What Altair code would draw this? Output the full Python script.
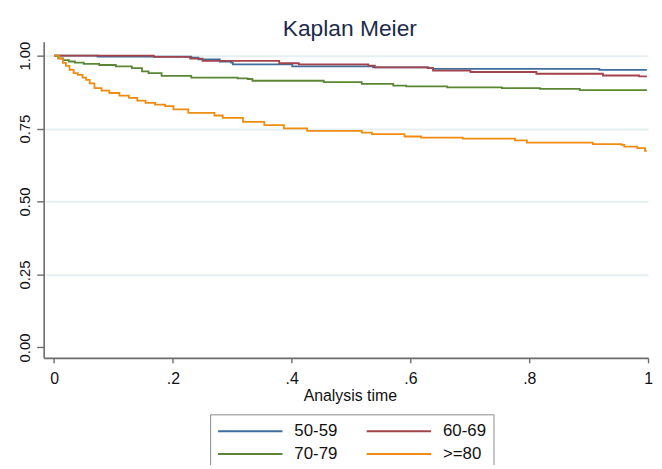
import altair as alt
import pandas as pd

groups = ["50-59", "60-69", "70-79", ">=80"]
colors = ["#3f6d9c", "#a3434c", "#5b8636", "#f08c12"]

t_50 = [0, 0.073, 0.231, 0.243, 0.279, 0.298, 0.301, 0.401, 0.537, 0.629, 0.638, 0.918, 0.998]
s_50 = [1.0, 0.997, 0.993, 0.987, 0.980, 0.976, 0.970, 0.963, 0.960, 0.957, 0.955, 0.951, 0.951]

t_60 = [0, 0.168, 0.229, 0.250, 0.379, 0.412, 0.529, 0.540, 0.630, 0.638, 0.701, 0.812, 0.924, 0.985, 0.998]
s_60 = [1.0, 0.9955, 0.990, 0.982, 0.974, 0.970, 0.966, 0.960, 0.957, 0.949, 0.944, 0.938, 0.932, 0.929, 0.929]

t_70 = [0, 0.007, 0.015, 0.025, 0.035, 0.050, 0.076, 0.104, 0.131, 0.148, 0.159, 0.181,
        0.231, 0.309, 0.326, 0.334, 0.454, 0.518, 0.571, 0.593, 0.662, 0.754, 0.818, 0.885, 0.998]
s_70 = [1.0, 0.991, 0.985, 0.980, 0.976, 0.972, 0.968, 0.963, 0.957, 0.946, 0.940, 0.931,
        0.925, 0.922, 0.920, 0.914, 0.909, 0.903, 0.897, 0.895, 0.891, 0.889, 0.886, 0.882, 0.882]

t_80 = [0, 0.008, 0.015, 0.020, 0.026, 0.033, 0.040, 0.048, 0.054, 0.060, 0.068, 0.080, 0.093,
        0.110, 0.126, 0.140, 0.154, 0.170, 0.187, 0.201, 0.226, 0.270, 0.284, 0.318, 0.354,
        0.387, 0.426, 0.518, 0.535, 0.590, 0.618, 0.688, 0.776, 0.796, 0.907, 0.955, 0.960,
        0.982, 0.995, 0.998]
s_80 = [1.0, 0.990, 0.975, 0.965, 0.951, 0.940, 0.934, 0.925, 0.917, 0.905, 0.889, 0.880, 0.872,
        0.863, 0.855, 0.846, 0.838, 0.832, 0.827, 0.816, 0.804, 0.795, 0.787, 0.773, 0.762,
        0.751, 0.742, 0.736, 0.731, 0.723, 0.719, 0.716, 0.710, 0.702, 0.697, 0.694, 0.688,
        0.683, 0.674, 0.674]

x_ticks = [0, 0.2, 0.4, 0.6, 0.8, 1.0]
y_ticks = [0, 0.25, 0.5, 0.75, 1.0]

series = [(groups[0], t_50, s_50), (groups[1], t_60, s_60),
          (groups[2], t_70, s_70), (groups[3], t_80, s_80)]
rows = []
for g, ts, ss in series:
    for t, s in zip(ts, ss):
        rows.append({"group": g, "t": t, "s": s})
df = pd.DataFrame(rows)

FONT = "Liberation Sans"

chart = alt.Chart(df).mark_line(
    interpolate="step-after", strokeWidth=1.8, clip=True
).encode(
    x=alt.X(
        "t:Q",
        scale=alt.Scale(domain=[-0.0175, 1.0], nice=False, zero=False),
        axis=alt.Axis(
            values=x_ticks,
            labelExpr="datum.value == 0 ? '0' : datum.value == 1 ? '1' : replace(format(datum.value, '.1f'), '0.', '.')",
            title="Analysis time",
            grid=False,
            tickSize=5,
            labelPadding=8,
            labelFontSize=16,
            labelFont=FONT,
            labelColor="#111111",
            titleFont=FONT,
            titleFontSize=16,
            titleFontWeight="normal",
            titleColor="#111111",
            titleX=309,
            titleY=43,
            titleAlign="center",
            titleBaseline="alphabetic",
            domainColor="#6b6b6b",
            domainWidth=1.6,
            tickColor="#6b6b6b",
            tickWidth=1.4,
            labelFlush=False,
        ),
    ),
    y=alt.Y(
        "s:Q",
        scale=alt.Scale(domain=[-0.0357, 1.0475], nice=False, zero=False),
        axis=alt.Axis(
            values=y_ticks,
            format=".2f",
            title=None,
            tickSize=7,
            labelAngle=-90,
            labelAlign="center",
            labelBaseline="alphabetic",
            labelPadding=7,
            labelFontSize=15,
            labelFont=FONT,
            labelColor="#111111",
            grid=True,
            gridColor="#e6eff1",
            gridWidth=2,
            gridOpacity=alt.condition("datum.value == 0", alt.value(0), alt.value(1)),
            domainColor="#6b6b6b",
            domainWidth=1.6,
            tickColor="#6b6b6b",
            tickWidth=1.4,
            labelFlush=False,
        ),
    ),
    color=alt.Color(
        "group:N",
        scale=alt.Scale(domain=groups, range=colors),
        legend=alt.Legend(
            title=None,
            orient="none",
            legendX=168,
            legendY=376,
            direction="horizontal",
            columns=2,
            symbolType="stroke",
            symbolSize=4225,
            symbolStrokeWidth=2,
            clipHeight=20,
            rowPadding=3,
            columnPadding=28,
            labelOffset=11,
            labelFontSize=17,
            labelFont=FONT,
            labelColor="#111111",
            padding=7,
            strokeColor="#8a8a8a",
            fillColor="white",
        ),
    ),
).properties(
    width=610,
    height=319,
    autosize=alt.AutoSizeParams(type="none"),
    padding={"left": 36, "top": 32, "right": 6, "bottom": 106},
    title=alt.Title(
        "Kaplan Meier",
        fontSize=23,
        font=FONT,
        fontWeight="normal",
        color="#1c2b4b",
        anchor="middle",
        baseline="alphabetic",
        offset=6,
        dx=4,
        dy=24,
    ),
).configure_view(strokeWidth=0)

chart.save("out.html", embed_options={"renderer": "svg", "actions": False})
